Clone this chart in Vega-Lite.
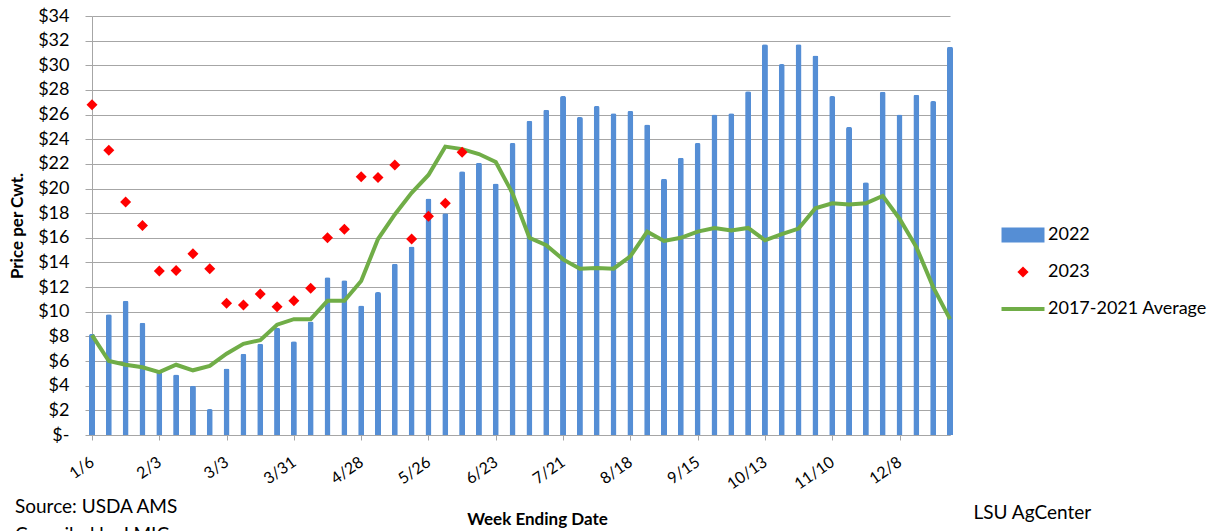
{
  "$schema": "https://vega.github.io/schema/vega-lite/v6.json",
  "width": 858,
  "height": 419,
  "autosize": "none",
  "padding": {"left": 92, "top": 16, "right": 264, "bottom": 96},
  "background": "white",
  "config": {
    "font": "Lato",
    "view": {"stroke": null},
    "axis": {"labelFont": "Lato", "titleFont": "Lato", "labelColor": "black", "titleColor": "black"}
  },
  "title": {
    "text": ["Source: USDA AMS", "Compiled by LMIC"],
    "orient": "bottom",
    "anchor": "start",
    "frame": "group",
    "font": "Lato",
    "fontSize": 19,
    "fontWeight": "normal",
    "color": "black",
    "lineHeight": 28,
    "dx": -77,
    "offset": -29
  },
  "datasets": {
    "prices": [
      {"date": "2023-01-06", "series": "2022", "price": 8.2},
      {"date": "2023-01-13", "series": "2022", "price": 9.8},
      {"date": "2023-01-20", "series": "2022", "price": 10.9},
      {"date": "2023-01-27", "series": "2022", "price": 9.1},
      {"date": "2023-02-03", "series": "2022", "price": 5.2},
      {"date": "2023-02-10", "series": "2022", "price": 4.9},
      {"date": "2023-02-17", "series": "2022", "price": 4.0},
      {"date": "2023-02-24", "series": "2022", "price": 2.1},
      {"date": "2023-03-03", "series": "2022", "price": 5.4},
      {"date": "2023-03-10", "series": "2022", "price": 6.6},
      {"date": "2023-03-17", "series": "2022", "price": 7.4},
      {"date": "2023-03-24", "series": "2022", "price": 8.7},
      {"date": "2023-03-31", "series": "2022", "price": 7.6},
      {"date": "2023-04-07", "series": "2022", "price": 9.2},
      {"date": "2023-04-14", "series": "2022", "price": 12.8},
      {"date": "2023-04-21", "series": "2022", "price": 12.55},
      {"date": "2023-04-28", "series": "2022", "price": 10.5},
      {"date": "2023-05-05", "series": "2022", "price": 11.6},
      {"date": "2023-05-12", "series": "2022", "price": 13.9},
      {"date": "2023-05-19", "series": "2022", "price": 15.3},
      {"date": "2023-05-26", "series": "2022", "price": 19.2},
      {"date": "2023-06-02", "series": "2022", "price": 18.0},
      {"date": "2023-06-09", "series": "2022", "price": 21.4},
      {"date": "2023-06-16", "series": "2022", "price": 22.1},
      {"date": "2023-06-23", "series": "2022", "price": 20.4},
      {"date": "2023-06-30", "series": "2022", "price": 23.7},
      {"date": "2023-07-07", "series": "2022", "price": 25.5},
      {"date": "2023-07-14", "series": "2022", "price": 26.4},
      {"date": "2023-07-21", "series": "2022", "price": 27.5},
      {"date": "2023-07-28", "series": "2022", "price": 25.8},
      {"date": "2023-08-04", "series": "2022", "price": 26.7},
      {"date": "2023-08-11", "series": "2022", "price": 26.1},
      {"date": "2023-08-18", "series": "2022", "price": 26.3},
      {"date": "2023-08-25", "series": "2022", "price": 25.2},
      {"date": "2023-09-01", "series": "2022", "price": 20.8},
      {"date": "2023-09-08", "series": "2022", "price": 22.5},
      {"date": "2023-09-15", "series": "2022", "price": 23.7},
      {"date": "2023-09-22", "series": "2022", "price": 26.0},
      {"date": "2023-09-29", "series": "2022", "price": 26.1},
      {"date": "2023-10-06", "series": "2022", "price": 27.9},
      {"date": "2023-10-13", "series": "2022", "price": 31.7},
      {"date": "2023-10-20", "series": "2022", "price": 30.1},
      {"date": "2023-10-27", "series": "2022", "price": 31.7},
      {"date": "2023-11-03", "series": "2022", "price": 30.8},
      {"date": "2023-11-10", "series": "2022", "price": 27.5},
      {"date": "2023-11-17", "series": "2022", "price": 25.0},
      {"date": "2023-11-24", "series": "2022", "price": 20.5},
      {"date": "2023-12-01", "series": "2022", "price": 27.85},
      {"date": "2023-12-08", "series": "2022", "price": 26.0},
      {"date": "2023-12-15", "series": "2022", "price": 27.6},
      {"date": "2023-12-22", "series": "2022", "price": 27.1},
      {"date": "2023-12-29", "series": "2022", "price": 31.5},
      {"date": "2023-01-06", "series": "2023", "price": 26.8},
      {"date": "2023-01-13", "series": "2023", "price": 23.1},
      {"date": "2023-01-20", "series": "2023", "price": 18.9},
      {"date": "2023-01-27", "series": "2023", "price": 17.0},
      {"date": "2023-02-03", "series": "2023", "price": 13.3},
      {"date": "2023-02-10", "series": "2023", "price": 13.35},
      {"date": "2023-02-17", "series": "2023", "price": 14.7},
      {"date": "2023-02-24", "series": "2023", "price": 13.5},
      {"date": "2023-03-03", "series": "2023", "price": 10.7},
      {"date": "2023-03-10", "series": "2023", "price": 10.55},
      {"date": "2023-03-17", "series": "2023", "price": 11.45},
      {"date": "2023-03-24", "series": "2023", "price": 10.4},
      {"date": "2023-03-31", "series": "2023", "price": 10.9},
      {"date": "2023-04-07", "series": "2023", "price": 11.9},
      {"date": "2023-04-14", "series": "2023", "price": 16.0},
      {"date": "2023-04-21", "series": "2023", "price": 16.7},
      {"date": "2023-04-28", "series": "2023", "price": 20.95},
      {"date": "2023-05-05", "series": "2023", "price": 20.9},
      {"date": "2023-05-12", "series": "2023", "price": 21.9},
      {"date": "2023-05-19", "series": "2023", "price": 15.9},
      {"date": "2023-05-26", "series": "2023", "price": 17.75},
      {"date": "2023-06-02", "series": "2023", "price": 18.8},
      {"date": "2023-06-09", "series": "2023", "price": 22.95},
      {"date": "2023-01-06", "series": "2017-2021 Average", "price": 8.1},
      {"date": "2023-01-13", "series": "2017-2021 Average", "price": 6.0},
      {"date": "2023-01-20", "series": "2017-2021 Average", "price": 5.7},
      {"date": "2023-01-27", "series": "2017-2021 Average", "price": 5.5},
      {"date": "2023-02-03", "series": "2017-2021 Average", "price": 5.1},
      {"date": "2023-02-10", "series": "2017-2021 Average", "price": 5.7},
      {"date": "2023-02-17", "series": "2017-2021 Average", "price": 5.25},
      {"date": "2023-02-24", "series": "2017-2021 Average", "price": 5.6},
      {"date": "2023-03-03", "series": "2017-2021 Average", "price": 6.6},
      {"date": "2023-03-10", "series": "2017-2021 Average", "price": 7.4},
      {"date": "2023-03-17", "series": "2017-2021 Average", "price": 7.7},
      {"date": "2023-03-24", "series": "2017-2021 Average", "price": 8.95},
      {"date": "2023-03-31", "series": "2017-2021 Average", "price": 9.4},
      {"date": "2023-04-07", "series": "2017-2021 Average", "price": 9.4},
      {"date": "2023-04-14", "series": "2017-2021 Average", "price": 10.9},
      {"date": "2023-04-21", "series": "2017-2021 Average", "price": 10.9},
      {"date": "2023-04-28", "series": "2017-2021 Average", "price": 12.5},
      {"date": "2023-05-05", "series": "2017-2021 Average", "price": 15.9},
      {"date": "2023-05-12", "series": "2017-2021 Average", "price": 17.9},
      {"date": "2023-05-19", "series": "2017-2021 Average", "price": 19.65},
      {"date": "2023-05-26", "series": "2017-2021 Average", "price": 21.1},
      {"date": "2023-06-02", "series": "2017-2021 Average", "price": 23.4},
      {"date": "2023-06-09", "series": "2017-2021 Average", "price": 23.2},
      {"date": "2023-06-16", "series": "2017-2021 Average", "price": 22.8},
      {"date": "2023-06-23", "series": "2017-2021 Average", "price": 22.15},
      {"date": "2023-06-30", "series": "2017-2021 Average", "price": 19.6},
      {"date": "2023-07-07", "series": "2017-2021 Average", "price": 16.0},
      {"date": "2023-07-14", "series": "2017-2021 Average", "price": 15.4},
      {"date": "2023-07-21", "series": "2017-2021 Average", "price": 14.25},
      {"date": "2023-07-28", "series": "2017-2021 Average", "price": 13.5},
      {"date": "2023-08-04", "series": "2017-2021 Average", "price": 13.55},
      {"date": "2023-08-11", "series": "2017-2021 Average", "price": 13.5},
      {"date": "2023-08-18", "series": "2017-2021 Average", "price": 14.5},
      {"date": "2023-08-25", "series": "2017-2021 Average", "price": 16.5},
      {"date": "2023-09-01", "series": "2017-2021 Average", "price": 15.75},
      {"date": "2023-09-08", "series": "2017-2021 Average", "price": 16.0},
      {"date": "2023-09-15", "series": "2017-2021 Average", "price": 16.5},
      {"date": "2023-09-22", "series": "2017-2021 Average", "price": 16.8},
      {"date": "2023-09-29", "series": "2017-2021 Average", "price": 16.6},
      {"date": "2023-10-06", "series": "2017-2021 Average", "price": 16.8},
      {"date": "2023-10-13", "series": "2017-2021 Average", "price": 15.8},
      {"date": "2023-10-20", "series": "2017-2021 Average", "price": 16.3},
      {"date": "2023-10-27", "series": "2017-2021 Average", "price": 16.75},
      {"date": "2023-11-03", "series": "2017-2021 Average", "price": 18.4},
      {"date": "2023-11-10", "series": "2017-2021 Average", "price": 18.8},
      {"date": "2023-11-17", "series": "2017-2021 Average", "price": 18.7},
      {"date": "2023-11-24", "series": "2017-2021 Average", "price": 18.8},
      {"date": "2023-12-01", "series": "2017-2021 Average", "price": 19.4},
      {"date": "2023-12-08", "series": "2017-2021 Average", "price": 17.55},
      {"date": "2023-12-15", "series": "2017-2021 Average", "price": 15.25},
      {"date": "2023-12-22", "series": "2017-2021 Average", "price": 12.0},
      {"date": "2023-12-29", "series": "2017-2021 Average", "price": 9.4}
    ]
  },
  "data": {"name": "prices"},
  "resolve": {"axis": {"y": "independent"}},
  "layer": [
    {
      "transform": [{"filter": "datum.series === '2022'"}],
      "mark": {"type": "bar", "width": 6, "cornerRadiusEnd": 2},
      "encoding": {
        "x": {
          "field": "date", "type": "temporal",
          "scale": {"type": "utc", "domain": [{"year": 2023, "month": 1, "date": 6, "utc": true}, {"year": 2023, "month": 12, "date": 29, "utc": true}], "nice": false, "padding": 0},
          "axis": {
            "values": [
              {"year": 2023, "month": 1, "date": 6, "utc": true},
              {"year": 2023, "month": 2, "date": 3, "utc": true},
              {"year": 2023, "month": 3, "date": 3, "utc": true},
              {"year": 2023, "month": 3, "date": 31, "utc": true},
              {"year": 2023, "month": 4, "date": 28, "utc": true},
              {"year": 2023, "month": 5, "date": 26, "utc": true},
              {"year": 2023, "month": 6, "date": 23, "utc": true},
              {"year": 2023, "month": 7, "date": 21, "utc": true},
              {"year": 2023, "month": 8, "date": 18, "utc": true},
              {"year": 2023, "month": 9, "date": 15, "utc": true},
              {"year": 2023, "month": 10, "date": 13, "utc": true},
              {"year": 2023, "month": 11, "date": 10, "utc": true},
              {"year": 2023, "month": 12, "date": 8, "utc": true}
            ],
            "format": "%-m/%-d",
            "title": "Week Ending Date",
            "titleFontSize": 17, "titleFontWeight": "bold",
            "titleX": 445, "titleY": 89, "titleAlign": "center", "titleBaseline": "alphabetic",
            "labelAngle": -35, "labelAlign": "right", "labelBaseline": "middle",
            "labelFontSize": 16, "labelPadding": 20, "labelOverlap": false, "labelFlush": false,
            "tickSize": 5, "tickColor": "#a6a6a6", "domainColor": "#a6a6a6", "grid": false
          }
        },
        "y": {
          "field": "price", "type": "quantitative",
          "scale": {"domain": [0, 34], "nice": false},
          "axis": {
            "values": [0, 2, 4, 6, 8, 10, 12, 14, 16, 18, 20, 22, 24, 26, 28, 30, 32, 34],
            "labelExpr": "datum.value === 0 ? '$-' : '$' + datum.value",
            "labelFontSize": 18, "labelPadding": 16, "tickSize": 7,
            "tickColor": "#a6a6a6", "domainColor": "#a6a6a6",
            "gridColor": "#a6a6a6", "gridWidth": 1.2,
            "title": "Price per Cwt.", "titleFontSize": 17, "titleFontWeight": "bold",
            "titleX": -75, "titleBaseline": "middle"
          }
        },
        "color": {
          "field": "series", "type": "nominal",
          "scale": {"domain": ["2022", "2023", "2017-2021 Average"], "range": ["#558ED5", "#FF0000", "#70AD47"]},
          "legend": {
            "title": null, "orient": "none", "legendX": 922, "legendY": 210,
            "labelFontSize": 18, "labelFont": "Lato", "labelColor": "black",
            "symbolSize": 196, "symbolStrokeWidth": 0, "labelOffset": 16, "rowPadding": 19
          }
        }
      }
    },
    {
      "transform": [{"filter": "datum.series === '2017-2021 Average'"}],
      "mark": {"type": "line", "strokeWidth": 4},
      "encoding": {
        "x": {"field": "date", "type": "temporal"},
        "y": {
          "field": "price", "type": "quantitative",
          "axis": {
            "orient": "right", "title": "LSU AgCenter", "labels": false, "ticks": false, "domain": false, "grid": false,
            "titleAngle": 0, "titleX": 23, "titleY": 502, "titleAlign": "left", "titleBaseline": "alphabetic",
            "titleFontSize": 19, "titleFontWeight": "normal"
          }
        },
        "color": {"field": "series", "type": "nominal"}
      }
    },
    {
      "transform": [{"filter": "datum.series === '2023'"}],
      "mark": {"type": "point", "filled": true, "opacity": 1, "size": 189},
      "encoding": {
        "x": {"field": "date", "type": "temporal"},
        "y": {"field": "price", "type": "quantitative", "axis": null},
        "color": {"field": "series", "type": "nominal"},
        "shape": {
          "field": "series", "type": "nominal",
          "scale": {"domain": ["2022", "2023", "2017-2021 Average"], "range": ["M-3.07,-1.07H3.07V1.07H-3.07Z", "M-0.8,0L0,-0.8L0.8,0L0,0.8Z", "M-3.07,-0.29H3.07V0.29H-3.07Z"]}
        }
      }
    }
  ]
}
